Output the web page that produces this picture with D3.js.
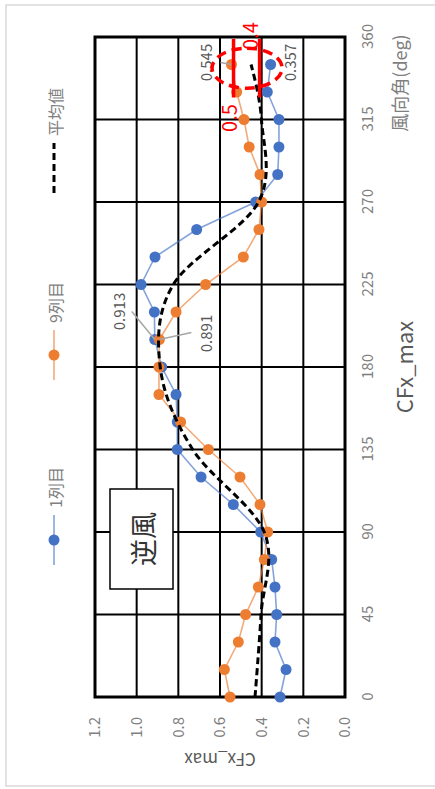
<!DOCTYPE html>
<html><head><meta charset="utf-8">
<script src="https://cdn.jsdelivr.net/npm/d3@7"></script>
<style>
html,body{margin:0;padding:0;background:#fff;}
svg{display:block;font-family:"Noto Sans CJK JP","Noto Sans",sans-serif;}
</style></head>
<body><svg id="c" width="435" height="789"></svg>
<script>
// ---- data ----
const degrees = [0,15,30,45,60,75,90,105,120,135,150,165,180,195,210,225,240,255,270,285,300,315,330,345];
const row1 = [0.312,0.283,0.336,0.328,0.336,0.352,0.405,0.536,0.691,0.805,0.805,0.811,0.880,0.913,0.915,0.979,0.912,0.712,0.429,0.323,0.317,0.317,0.373,0.357];
const row9 = [0.552,0.579,0.512,0.477,0.416,0.387,0.371,0.408,0.504,0.656,0.789,0.893,0.893,0.891,0.811,0.669,0.488,0.413,0.400,0.408,0.460,0.485,0.520,0.545];
const avgDegrees = [0,45,90,135,180,225,270,315,345];
const avgValues = [0.432,0.403,0.388,0.731,0.887,0.824,0.415,0.401,0.451];
const degTicks = [0,45,90,135,180,225,270,315,360];
const valTicks = [0,0.2,0.4,0.6,0.8,1.0,1.2];
const seriesNames = ["1列目","9列目","平均値"];
const labelPoints = [
  {series:0, deg:195, text:"0.913"},
  {series:1, deg:195, text:"0.891"},
  {series:1, deg:345, text:"0.545"},
  {series:0, deg:345, text:"0.357"}
];
const markLines = [0.535, 0.41];
const markTexts = ["0.5","0.4"];

const W = 789, H = 435;
const svg = d3.select("#c");
// outer frame
svg.append("rect").attr("x",6).attr("y",5).attr("width",700).attr("height",781)
  .attr("fill","#fff").attr("stroke","#d9d9d9").attr("stroke-width",1.5);

// rotated chart group (original landscape chart turned 90deg CCW)
const g = svg.append("g").attr("transform",`translate(0,${W}) rotate(-90)`);

const x = d3.scaleLinear().domain([0,360]).range([92,752]);
const y = d3.scaleLinear().domain([0,1.2]).range([345,95]);

// gridlines
g.append("g").selectAll("line").data(degTicks).join("line")
  .attr("x1",d=>x(d)).attr("x2",d=>x(d)).attr("y1",y(0)).attr("y2",y(1.2))
  .attr("stroke","#000").attr("stroke-width",2);
g.append("g").selectAll("line").data(valTicks).join("line")
  .attr("x1",x(0)).attr("x2",x(360)).attr("y1",d=>y(d)).attr("y2",d=>y(d))
  .attr("stroke","#000").attr("stroke-width",2);
g.append("rect").attr("x",x(0)).attr("y",y(1.2)).attr("width",x(360)-x(0)).attr("height",y(0)-y(1.2))
  .attr("fill","none").attr("stroke","#000").attr("stroke-width",3);

// axes
const ax = g.append("g").attr("transform",`translate(0,${y(0)})`)
  .call(d3.axisBottom(x).tickValues(degTicks).tickSize(0).tickPadding(17));
ax.select(".domain").remove();
ax.selectAll("text").attr("font-size",15).attr("fill","#7f7f7f").attr("font-family","Noto Sans CJK JP");
const ay = g.append("g").attr("transform",`translate(${x(0)},0)`)
  .call(d3.axisLeft(y).tickValues(valTicks).tickFormat(d3.format(".1f")).tickSize(0).tickPadding(20));
ay.select(".domain").remove();
ay.selectAll("text").attr("font-size",15).attr("fill","#7f7f7f").attr("font-family","Noto Sans CJK JP");

// 逆風 box
g.append("rect").attr("x",200).attr("y",110).attr("width",100).attr("height",63)
  .attr("fill","#fff").attr("stroke","#000").attr("stroke-width",1.5);
g.append("text").attr("x",250).attr("y",142).attr("text-anchor","middle").attr("dominant-baseline","central")
  .attr("font-size",27).attr("fill","#333").text("逆風");

// series
const colors = ["#4472c4","#ed7d31"];
const series = [row1,row9];
const line = d3.line().x(d=>x(d[0])).y(d=>y(d[1]));
series.forEach((vals,i)=>{
  const pts = degrees.map((d,k)=>[d,vals[k]]);
  g.append("path").datum(pts).attr("d",line).attr("fill","none")
    .attr("stroke",colors[i]).attr("stroke-opacity",0.65).attr("stroke-width",1.6);
});
series.forEach((vals,i)=>{
  g.append("g").selectAll("circle").data(degrees.map((d,k)=>[d,vals[k]])).join("circle")
    .attr("cx",d=>x(d[0])).attr("cy",d=>y(d[1])).attr("r",5.5).attr("fill",colors[i]);
});
// average
const avgLine = d3.line().x(d=>x(d[0])).y(d=>y(d[1])).curve(d3.curveCardinal.tension(0));
g.append("path").datum(avgDegrees.map((d,k)=>[d,avgValues[k]])).attr("d",avgLine)
  .attr("fill","none").attr("stroke","#000").attr("stroke-width",3).attr("stroke-dasharray","7,4");

// data labels
const lblOff = [
  {dx:28, dy:-30, lx:28, ly:-23},
  {dx:6, dy:53, lx:7, ly:32},
  {dx:2, dy:-19, lx:2, ly:-11},
  {dx:2, dy:25, lx:null, ly:null}
];
labelPoints.forEach((p,i)=>{
  const k = degrees.indexOf(p.deg);
  const px = x(p.deg), py = y(series[p.series][k]);
  const o = lblOff[i];
  if(o.lx!==null){
    g.append("line").attr("x1",px+o.lx).attr("y1",py+o.ly).attr("x2",px).attr("y2",py)
      .attr("stroke","#a6a6a6").attr("stroke-width",1.5);
  }
  g.append("text").attr("x",px+o.dx).attr("y",py+o.dy).attr("text-anchor","middle")
    .attr("font-size",15).attr("fill","#595959").text(p.text);
});

// red annotation
markLines.forEach(v=>{
  g.append("line").attr("x1",x(327)).attr("x2",x(359)).attr("y1",y(v)).attr("y2",y(v))
    .attr("stroke","#ff0000").attr("stroke-width",3.5);
});
g.append("ellipse").attr("cx",x(343)).attr("cy",y(0.47)).attr("rx",20).attr("ry",35)
  .attr("fill","none").attr("stroke","#ff0000").attr("stroke-width",3.5).attr("stroke-dasharray","10,6");
g.append("text").attr("x",671).attr("y",237).attr("text-anchor","middle").attr("font-size",20)
  .attr("fill","#ff0000").text(markTexts[0]);
g.append("text").attr("x",753).attr("y",258).attr("text-anchor","middle").attr("font-size",20)
  .attr("fill","#ff0000").text(markTexts[1]);

// titles
g.append("text").attr("x",(x(0)+x(360))/2).attr("y",413).attr("text-anchor","middle")
  .attr("font-size",22).attr("fill","#595959").text("CFx_max");
g.append("text").attr("x",706).attr("y",407).attr("text-anchor","middle")
  .attr("font-size",18).attr("fill","#7f7f7f").text("風向角(deg)");
g.append("text").attr("transform",`translate(36,${(y(0)+y(1.2))/2}) rotate(-90)`).attr("text-anchor","middle")
  .attr("font-size",17).attr("fill","#595959").text("CFx_max");

// legend
const legX = [224,409,596];
legX.forEach((lx,i)=>{
  const lg = g.append("g");
  if(i<2){
    lg.append("line").attr("x1",lx).attr("x2",lx+50).attr("y1",54).attr("y2",54)
      .attr("stroke",colors[i]).attr("stroke-opacity",0.65).attr("stroke-width",1.6);
    lg.append("circle").attr("cx",lx+25).attr("cy",54).attr("r",5.5).attr("fill",colors[i]);
  } else {
    lg.append("line").attr("x1",lx).attr("x2",lx+50).attr("y1",54).attr("y2",54)
      .attr("stroke","#000").attr("stroke-width",3).attr("stroke-dasharray","7,4");
  }
  lg.append("text").attr("x",lx+57).attr("y",55).attr("dominant-baseline","central")
    .attr("font-size",16).attr("fill","#7f7f7f").text(seriesNames[i]);
});
</script></body></html>
